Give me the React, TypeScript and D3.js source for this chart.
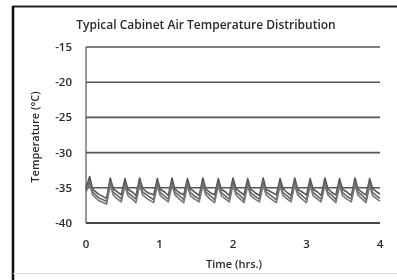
import React from "react";
import * as d3 from "d3";

const title = "Typical Cabinet Air Temperature Distribution";
const yTicks = [-15, -20, -25, -30, -35, -40];
const xTicks = [0, 1, 2, 3, 4];

const times = [
  0,
  0.05, 0.09, 0.17, 0.28,
  0.33, 0.37, 0.43, 0.48,
  0.53, 0.57, 0.63, 0.68,
  0.73, 0.77, 0.84, 0.92,
  0.97, 1.01, 1.07, 1.12,
  1.17, 1.21, 1.27, 1.33,
  1.38, 1.42, 1.48, 1.54,
  1.59, 1.63, 1.69, 1.75,
  1.80, 1.84, 1.90, 1.95,
  2.00, 2.04, 2.10, 2.15,
  2.20, 2.24, 2.30, 2.36,
  2.41, 2.45, 2.52, 2.59,
  2.64, 2.68, 2.74, 2.79,
  2.84, 2.88, 2.94, 3.00,
  3.05, 3.09, 3.15, 3.20,
  3.25, 3.29, 3.35, 3.40,
  3.45, 3.49, 3.55, 3.61,
  3.66, 3.70, 3.76, 3.81,
  3.86, 3.90, 3.96, 4.00,
];

const sensorA = [
  -35.0,
  -33.4, -35.2, -35.9, -36.5,
  -33.6, -35.1, -35.6, -36.0,
  -33.7, -35.2, -35.6, -36.1,
  -33.6, -35.1, -35.7, -36.0,
  -33.7, -35.2, -35.6, -36.1,
  -33.6, -35.2, -35.7, -36.0,
  -33.7, -35.1, -35.6, -36.1,
  -33.6, -35.2, -35.7, -36.0,
  -33.7, -35.2, -35.6, -36.1,
  -33.6, -35.1, -35.6, -36.0,
  -33.7, -35.2, -35.7, -36.1,
  -33.6, -35.2, -35.6, -36.0,
  -33.7, -35.1, -35.7, -36.1,
  -33.6, -35.2, -35.6, -36.0,
  -33.7, -35.2, -35.6, -36.1,
  -33.6, -35.1, -35.7, -36.0,
  -33.7, -35.2, -35.6, -36.1,
  -33.6, -35.2, -35.7, -36.0,
  -33.7, -35.1, -35.6, -35.9,
];

const sensorB = [
  -35.3,
  -34.0, -35.6, -36.4, -36.9,
  -34.1, -35.6, -36.1, -36.6,
  -34.2, -35.7, -36.2, -36.6,
  -34.1, -35.6, -36.1, -36.7,
  -34.2, -35.7, -36.2, -36.6,
  -34.1, -35.6, -36.1, -36.7,
  -34.2, -35.7, -36.2, -36.6,
  -34.1, -35.6, -36.1, -36.7,
  -34.2, -35.7, -36.2, -36.6,
  -34.1, -35.6, -36.1, -36.7,
  -34.2, -35.7, -36.2, -36.6,
  -34.1, -35.6, -36.1, -36.7,
  -34.2, -35.7, -36.2, -36.6,
  -34.1, -35.6, -36.1, -36.7,
  -34.2, -35.7, -36.2, -36.6,
  -34.1, -35.6, -36.1, -36.7,
  -34.2, -35.7, -36.2, -36.6,
  -34.1, -35.6, -36.1, -36.7,
  -34.2, -35.7, -36.2, -36.5,
];

const sensorC = [
  -35.6,
  -34.5, -36.0, -36.8, -37.3,
  -34.6, -36.0, -36.6, -37.0,
  -34.7, -36.1, -36.6, -37.1,
  -34.6, -36.0, -36.6, -37.1,
  -34.7, -36.1, -36.6, -37.0,
  -34.6, -36.0, -36.6, -37.1,
  -34.7, -36.1, -36.6, -37.0,
  -34.6, -36.0, -36.6, -37.1,
  -34.7, -36.1, -36.6, -37.0,
  -34.6, -36.0, -36.6, -37.1,
  -34.7, -36.1, -36.6, -37.0,
  -34.6, -36.0, -36.6, -37.1,
  -34.7, -36.1, -36.6, -37.0,
  -34.6, -36.0, -36.6, -37.1,
  -34.7, -36.1, -36.6, -37.0,
  -34.6, -36.0, -36.6, -37.1,
  -34.7, -36.1, -36.6, -37.0,
  -34.6, -36.0, -36.6, -37.1,
  -34.7, -36.1, -36.6, -36.9,
];

const series = [sensorA, sensorB, sensorC];

const W = 397;
const H = 280;
const plot = { left: 86, right: 380, top: 47, bottom: 223 };
const font = "'Open Sans', sans-serif";
const textColor = "#2a2a2a";

export default function App() {
  const x = d3.scaleLinear().domain([0, 4]).range([plot.left, plot.right]);
  const y = d3.scaleLinear().domain([-40, -15]).range([plot.bottom, plot.top]);
  const line = d3
    .line<number>()
    .x((_, i) => x(times[i]))
    .y((d) => y(d));

  return (
    <svg
      width={W}
      height={H}
      style={{ position: "absolute", left: 0, top: 0, background: "#fff" }}
    >
      <defs>
        <filter id="soft" x="-5%" y="-5%" width="110%" height="110%">
          <feGaussianBlur stdDeviation="0.5" />
        </filter>
      </defs>
      <g filter="url(#soft)">
        {/* frame */}
        <line x1={12.5} x2={W} y1={6.5} y2={6.5} stroke="#222" strokeWidth={2} />
        <line x1={13} x2={13} y1={6} y2={H} stroke="#111" strokeWidth={2.5} />
        <line x1={13} x2={W} y1={273.5} y2={273.5} stroke="#d8d8d8" strokeWidth={1} />

        <text
          x={206}
          y={29}
          textAnchor="middle"
          fontFamily={font}
          fontSize={12}
          fontWeight={600}
          fill={textColor}
        >
          {title}
        </text>

        {/* gridlines */}
        {yTicks.map((t) => (
          <line
            key={t}
            x1={plot.left}
            x2={plot.right}
            y1={y(t)}
            y2={y(t)}
            stroke={t === -40 ? "#444" : "#555"}
            strokeWidth={t === -40 ? 2 : 1.6}
          />
        ))}
        <line
          x1={plot.left}
          x2={plot.left}
          y1={plot.top}
          y2={plot.bottom}
          stroke="#555"
          strokeWidth={1.2}
        />

        {/* y tick labels */}
        {yTicks.map((t) => (
          <text
            key={t}
            x={72}
            y={y(t) + 4}
            textAnchor="end"
            fontFamily={font}
            fontSize={11.5}
            fontWeight={600}
            fill={textColor}
          >
            {t}
          </text>
        ))}

        {/* x tick labels */}
        {xTicks.map((t) => (
          <text
            key={t}
            x={x(t)}
            y={248}
            textAnchor="middle"
            fontFamily={font}
            fontSize={11.5}
            fontWeight={600}
            fill={textColor}
          >
            {t}
          </text>
        ))}

        <text
          x={234}
          y={268}
          textAnchor="middle"
          fontFamily={font}
          fontSize={11}
          fontWeight={600}
          fill={textColor}
        >
          Time (hrs.)
        </text>
        <text
          transform={`translate(39,${137}) rotate(-90)`}
          textAnchor="middle"
          fontFamily={font}
          fontSize={11}
          fontWeight={600}
          fill={textColor}
        >
          Temperature (°C)
        </text>

        {/* data */}
        {series.map((s, i) => (
          <path
            key={i}
            d={line(s) || ""}
            fill="none"
            stroke={["#555", "#666", "#777"][i]}
            strokeWidth={1.6}
            strokeLinejoin="round"
          />
        ))}
      </g>
    </svg>
  );
}
